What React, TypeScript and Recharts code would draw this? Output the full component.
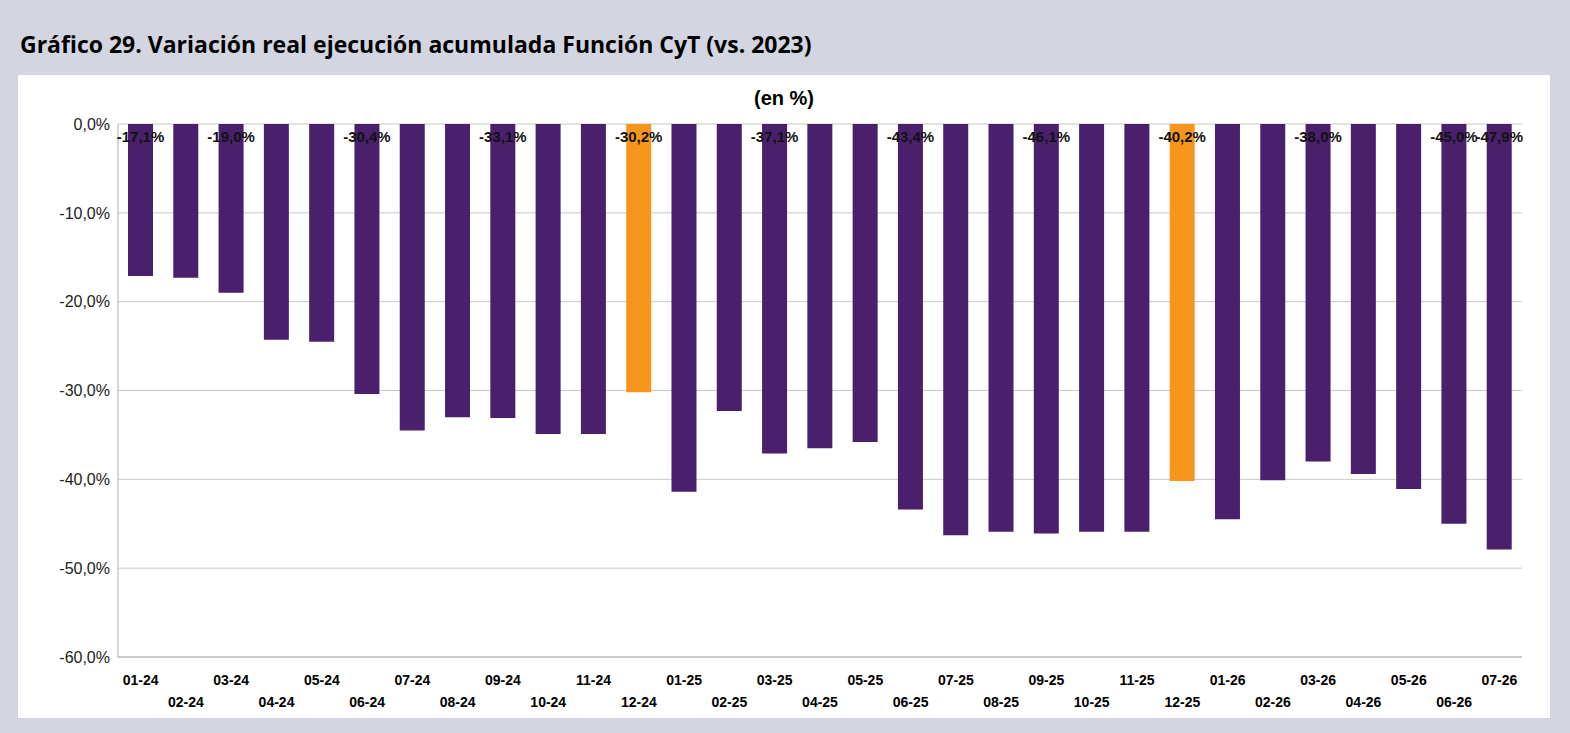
import React from "react";
import { BarChart, Bar, XAxis, YAxis, CartesianGrid, Cell, LabelList } from "recharts";

const categories = [
  "01-24", "02-24", "03-24", "04-24", "05-24", "06-24", "07-24", "08-24", "09-24", "10-24", "11-24", "12-24",
  "01-25", "02-25", "03-25", "04-25", "05-25", "06-25", "07-25", "08-25", "09-25", "10-25", "11-25", "12-25",
  "01-26", "02-26", "03-26", "04-26", "05-26", "06-26", "07-26",
];
const values = [
  -17.1, -17.3, -19.0, -24.3, -24.5, -30.4, -34.5, -33.0, -33.1, -34.9, -34.9, -30.2,
  -41.4, -32.3, -37.1, -36.5, -35.8, -43.4, -46.3, -45.9, -46.1, -45.9, -45.9, -40.2,
  -44.5, -40.1, -38.0, -39.4, -41.1, -45.0, -47.9,
];
const labeled = ["01-24", "03-24", "06-24", "09-24", "12-24", "03-25", "06-25", "09-25", "12-25", "03-26", "06-26", "07-26"];
const highlighted = ["12-24", "12-25"];
const yTicks = [0, -10, -20, -30, -40, -50, -60];

const data = categories.map((c, i) => ({ name: c, value: values[i] }));
const fmt = (v: number) => v.toFixed(1).replace(".", ",") + "%";

const XTick = (props: any) => {
  const { x, y, payload, index } = props;
  return (
    <text x={x} y={y + (index % 2 === 0 ? 20 : 42)} textAnchor="middle" fontSize={14} fontWeight="bold" fill="#000" fontFamily="Liberation Sans, Arial, sans-serif">
      {payload.value}
    </text>
  );
};

const BarLabel = (props: any) => {
  const { x, y, width, height, index } = props;
  const d = data[index];
  if (!labeled.includes(d.name)) return null;
  return (
    <text x={x + width / 2} y={y + height + 18} textAnchor="middle" fontSize={15} fontWeight="bold" fill="#111" fontFamily="Liberation Sans, Arial, sans-serif">
      {fmt(d.value)}
    </text>
  );
};

export default function App() {
  return (
    <div style={{ position: "absolute", left: 0, top: 0, width: 1570, height: 733, background: "#d3d6e0", fontFamily: "Open Sans, sans-serif" }}>
      <div style={{ position: "absolute", left: 20, top: 28, fontSize: 23, fontWeight: "bold", color: "#000" }}>
        Gráfico 29. Variación real ejecución acumulada Función CyT (vs. 2023)
      </div>
      <div style={{ position: "absolute", left: 18, top: 75, width: 1532, height: 643, background: "#fff" }}>
        <div style={{ position: "absolute", left: 0, right: 0, top: 12, textAlign: "center", fontSize: 20, fontWeight: "bold", fontFamily: "Liberation Sans, Arial, sans-serif" }}>
          (en %)
        </div>
        <BarChart width={1532} height={643} data={data} margin={{ top: 49, right: 28, left: 20, bottom: 0 }}>
          <CartesianGrid vertical={false} stroke="#c8c8c8" />
          <XAxis dataKey="name" orientation="bottom" height={61} interval={0} tick={<XTick />} tickLine={false} axisLine={{ stroke: "#b0b0b0" }} />
          <YAxis
            width={80}
            domain={[-60, 0]}
            ticks={yTicks}
            reversed={false}
            tickFormatter={fmt}
            tick={{ fontSize: 16, fill: "#222", fontFamily: "Liberation Sans, Arial, sans-serif" }}
            tickLine={false}
            axisLine={{ stroke: "#b0b0b0" }}
          />
          <YAxis yAxisId="r" orientation="right" width={0} tick={false} tickLine={false} axisLine={{ stroke: "#b0b0b0" }} />
          <Bar dataKey="value" barSize={25} isAnimationActive={false}>
            {data.map((d, i) => (
              <Cell key={i} fill={highlighted.includes(d.name) ? "#f7961d" : "#4a1f6b"} />
            ))}
            <LabelList content={<BarLabel />} />
          </Bar>
        </BarChart>
      </div>
    </div>
  );
}
